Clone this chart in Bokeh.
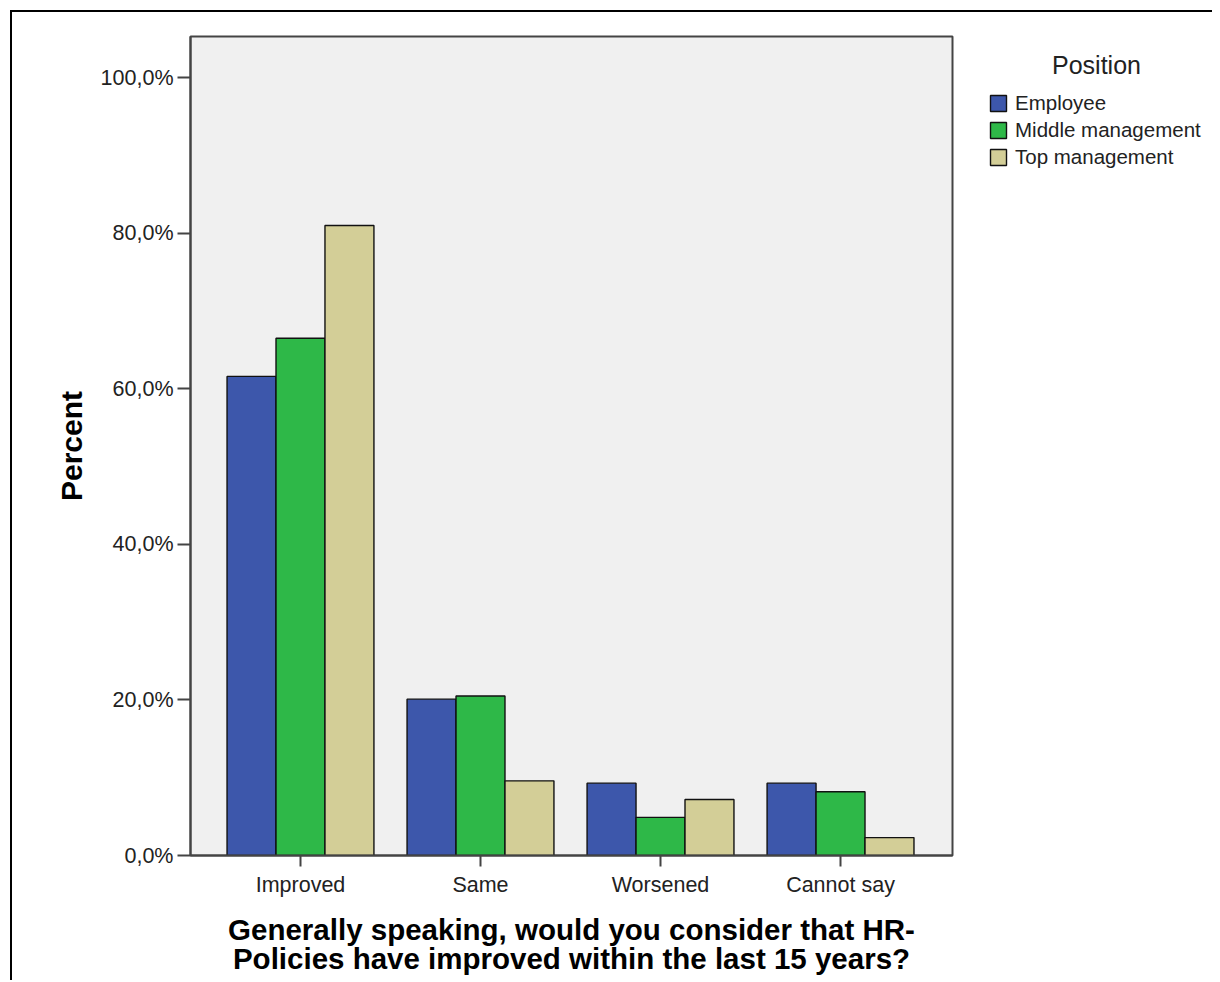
from bokeh.plotting import figure
from bokeh.layouts import row
from bokeh.models import (Range1d, FixedTicker, Legend, LegendItem, Label,
                          ColumnDataSource)
from bokeh.transform import dodge
from bokeh.embed import file_html
from bokeh.resources import INLINE

categories = ["Improved", "Same", "Worsened", "Cannot say"]
series_names = ["Employee", "Middle management", "Top management"]
employee = [61.6, 20.1, 9.3, 9.3]
middle_management = [66.5, 20.5, 4.9, 8.2]
top_management = [81.0, 9.6, 7.2, 2.3]
y_ticks = [0, 20, 40, 60, 80, 100]
y_tick_labels = ["0,0%", "20,0%", "40,0%", "60,0%", "80,0%", "100,0%"]
colors = ["#3D57AB", "#2EB848", "#D3CE97"]

FONT = "Liberation Sans"

source = ColumnDataSource(dict(
    x=list(range(len(categories))),
    employee=employee,
    middle=middle_management,
    top=top_management,
))
series_cols = ["employee", "middle", "top"]

p = figure(width=950, height=968, output_backend="svg", toolbar_location=None,
           x_range=Range1d(-0.611, 3.622), y_range=Range1d(0, 105.3),
           min_border_left=178, min_border_right=10,
           min_border_top=24, min_border_bottom=125,
           background_fill_color="#F0F0F0", border_fill_color="white")

bw = 0.272
offsets = [-bw, 0, bw]
for col, off, c in zip(series_cols, offsets, colors):
    p.vbar(x=dodge("x", off, range=p.x_range), top=col, width=bw, source=source,
           fill_color=c, line_color="#111111", line_width=1.4)

p.xgrid.visible = False
p.ygrid.visible = False
p.outline_line_color = "#444444"
p.outline_line_width = 2

for ax in (p.xaxis[0], p.yaxis[0]):
    ax.axis_line_color = "#444444"
    ax.axis_line_width = 2
    ax.major_tick_line_color = "#444444"
    ax.major_tick_line_width = 2
    ax.minor_tick_line_color = None
    ax.major_tick_in = 0
    ax.major_label_text_font = FONT
    ax.major_label_text_font_size = "21.5px"
    ax.major_label_text_color = "#222222"
    ax.axis_label_text_font = FONT
    ax.axis_label_text_font_style = "bold"
    ax.axis_label_text_color = "black"

p.yaxis.ticker = FixedTicker(ticks=y_ticks)
p.yaxis.major_label_overrides = {t: l for t, l in zip(y_ticks, y_tick_labels)}
p.yaxis.major_tick_out = 13
p.yaxis.major_label_standoff = 4
p.yaxis.axis_label = "Percent"
p.yaxis.axis_label_text_font_size = "30px"
p.yaxis.axis_label_standoff = 10

p.xaxis.ticker = FixedTicker(ticks=list(range(len(categories))))
p.xaxis.major_label_overrides = {i: c for i, c in enumerate(categories)}
p.xaxis.major_tick_out = 11
p.xaxis.major_label_standoff = 6
p.xaxis.axis_label = "Generally speaking, would you consider that HR-\nPolicies have improved within the last 15 years?"
p.xaxis.axis_label_text_font_size = "29.5px"
p.xaxis.axis_label_standoff = 13
p.xaxis.axis_label_text_line_height = 0.9

# legend panel (its frame is aligned with the main frame by the row layout);
# hidden copies of the series only provide the legend swatches
p2 = figure(width=250, height=968, output_backend="svg", toolbar_location=None,
            x_range=Range1d(0, 1), y_range=Range1d(0, 1),
            x_axis_type=None, y_axis_type=None, min_border=0,
            background_fill_color="white", border_fill_color="white",
            outline_line_color=None)
p2.grid.visible = False
swatches = []
for col, c in zip(series_cols, colors):
    r = p2.vbar(x="x", top=col, width=bw, source=source, fill_color=c,
                line_color="#111111", line_width=1.4)
    r.visible = False
    swatches.append(r)
legend = Legend(items=[LegendItem(label=n, renderers=[r]) for n, r in zip(series_names, swatches)],
                location=(26, 686), orientation="vertical",
                glyph_width=20, glyph_height=20, label_height=20, spacing=3,
                label_standoff=7, padding=0, margin=0,
                border_line_color=None, background_fill_alpha=0,
                inactive_fill_alpha=0,
                label_text_font=FONT, label_text_font_size="20.5px",
                label_text_color="#222222")
p2.add_layout(legend)
p2.add_layout(Label(x=134, y=791, x_units="screen", y_units="screen", text="Position",
                    text_align="center", text_baseline="middle",
                    text_font=FONT, text_font_size="25px", text_color="#222222"))

layout = row(p, p2, spacing=0)
layout.styles = {"border-left": "2px solid black", "border-top": "2px solid black",
                 "margin-left": "10px", "margin-top": "10px"}

open("out.html", "w").write(file_html(layout, INLINE))
